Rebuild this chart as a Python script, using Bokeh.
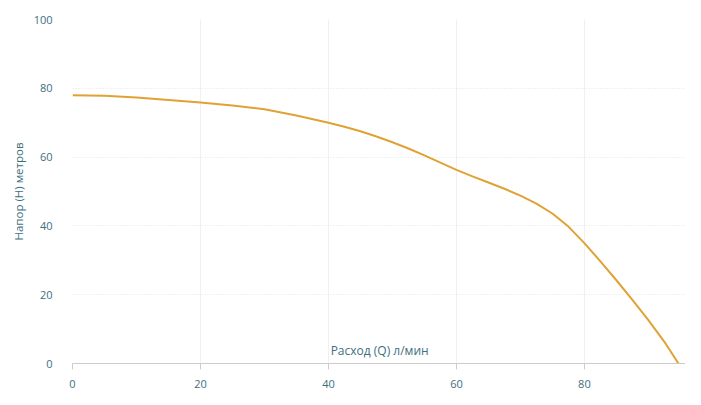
from bokeh.plotting import figure
from bokeh.models import Range1d, FixedTicker, Label
from bokeh.embed import file_html
from bokeh.resources import INLINE

flow = [0, 5, 10, 15, 20, 25, 30, 35, 40, 42.5, 45, 47.5, 50, 52.5, 55, 57.5, 60, 62.5,
        65, 67.5, 70, 72.5, 75, 77.5, 80, 82.5, 85, 87.5, 90, 92.5, 94.7]
head = [78, 77.8, 77.3, 76.6, 75.9, 75.0, 73.9, 72.1, 70, 68.8, 67.5, 66.0, 64.3, 62.5, 60.5,
        58.4, 56.3, 54.4, 52.6, 50.8, 48.8, 46.5, 43.6, 39.8, 35, 29.7, 24.2, 18.5, 12.6, 6.3, 0]
x_ticks = [0, 20, 40, 60, 80]
y_ticks = [0, 20, 40, 60, 80, 100]

FONT = "Open Sans"
TXT = "#3d6f7e"

p = figure(width=685, height=393, output_backend="svg", toolbar_location=None,
           x_range=Range1d(0, 95.8), y_range=Range1d(0, 100),
           min_border_left=72, min_border_right=0, min_border_top=19, min_border_bottom=30)
p.outline_line_color = None
p.background_fill_color = "white"

p.line(flow, head, line_color="#E0A234", line_width=2, line_join="round")

p.xaxis.ticker = FixedTicker(ticks=x_ticks)
p.yaxis.ticker = FixedTicker(ticks=y_ticks)
p.xaxis.minor_tick_line_color = None
p.yaxis.minor_tick_line_color = None
p.xaxis.axis_line_color = "#cccccc"
p.xaxis.major_tick_line_color = "#cccccc"
p.xaxis.major_tick_out = 6
p.xaxis.major_tick_in = 0
p.xaxis.major_label_standoff = 10
p.yaxis.axis_line_color = None
p.yaxis.major_tick_line_color = None
p.yaxis.major_label_standoff = 14
for ax in (p.xaxis, p.yaxis):
    ax.major_label_text_font = FONT
    ax.major_label_text_font_size = "11px"
    ax.major_label_text_color = TXT
    ax.axis_label_text_font = FONT
    ax.axis_label_text_font_size = "11.5px"
    ax.axis_label_text_font_style = "normal"
    ax.axis_label_text_color = TXT

p.yaxis.axis_label = "Напор (Н) метров"
p.yaxis.axis_label_standoff = 5

p.xgrid.ticker = FixedTicker(ticks=x_ticks)
p.ygrid.ticker = FixedTicker(ticks=y_ticks)
p.xgrid.grid_line_color = "#f0f0f0"
p.ygrid.grid_line_color = "#e3e3e3"
p.ygrid.grid_line_dash = "1 2"

p.add_layout(Label(x=48.0, y=0, y_offset=5, text="Расход (Q) л/мин", text_align="center",
                   text_baseline="bottom", text_font=FONT, text_font_size="12px",
                   text_color=TXT))

open("out.html", "w").write(file_html(p, INLINE))
